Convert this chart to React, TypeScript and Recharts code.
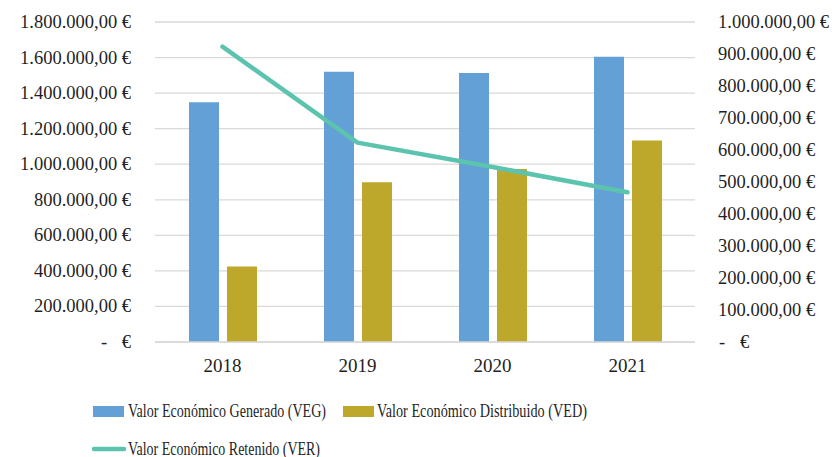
import React from "react";
import {
  ComposedChart,
  Bar,
  Line,
  XAxis,
  YAxis,
  CartesianGrid,
  Legend,
} from "recharts";

const years = ["2018", "2019", "2020", "2021"];
const vegValues = [1348000, 1520000, 1513000, 1605000];
const vedValues = [424000, 898000, 973000, 1134000];
const verValues = [923000, 623000, 547000, 468000];

const leftTicks = [0, 200000, 400000, 600000, 800000, 1000000, 1200000, 1400000, 1600000, 1800000];
const rightTicks = [0, 100000, 200000, 300000, 400000, 500000, 600000, 700000, 800000, 900000, 1000000];

const seriesNames = {
  veg: "Valor Económico Generado (VEG)",
  ved: "Valor Económico Distribuido (VED)",
  ver: "Valor Económico Retenido (VER)",
};

const COLORS = {
  veg: "#63A0D6",
  ved: "#BDA82B",
  ver: "#5CC4AE",
  grid: "#D9D9D9",
  text: "#1f1f1f",
};

const FONT = "'Liberation Serif', 'DejaVu Serif', serif";

const data = years.map((y, i) => ({
  year: y,
  veg: vegValues[i],
  ved: vedValues[i],
  ver: verValues[i],
}));

function fmt(v: number): string {
  const s = Math.round(v).toString();
  const parts: string[] = [];
  for (let i = s.length; i > 0; i -= 3) {
    parts.unshift(s.substring(Math.max(0, i - 3), i));
  }
  return parts.join(".") + ",00 €";
}

const LeftTick = (props: any) => {
  const { x, y, payload } = props;
  const v = payload.value as number;
  if (v === 0) {
    return (
      <g>
        <text x={x - 27} y={y + 6} textAnchor="middle" fontSize={18.5} fontFamily={FONT} fill={COLORS.text}>-</text>
        <text x={x} y={y + 6} textAnchor="end" fontSize={18.5} fontFamily={FONT} fill={COLORS.text}>€</text>
      </g>
    );
  }
  return (
    <text x={x} y={y + 6} textAnchor="end" fontSize={18.5} fontFamily={FONT} fill={COLORS.text}>
      {fmt(v)}
    </text>
  );
};

const RightTick = (props: any) => {
  const { x, y, payload } = props;
  const v = payload.value as number;
  if (v === 0) {
    return (
      <g>
        <text x={x + 1} y={y + 6} textAnchor="start" fontSize={18.5} fontFamily={FONT} fill={COLORS.text}>-</text>
        <text x={x + 22} y={y + 6} textAnchor="start" fontSize={18.5} fontFamily={FONT} fill={COLORS.text}>€</text>
      </g>
    );
  }
  return (
    <text x={x} y={y + 6} textAnchor="start" fontSize={18.5} fontFamily={FONT} fill={COLORS.text}>
      {fmt(v)}
    </text>
  );
};

const XTick = (props: any) => {
  const { x, y, payload } = props;
  return (
    <text x={x} y={y + 30} textAnchor="middle" fontSize={19} fontFamily={FONT} fill={COLORS.text}>
      {payload.value}
    </text>
  );
};

const LEGEND_TOP = 377;
const LEGEND_H = 80;

const LegendContent = () => {
  const top = LEGEND_TOP;
  return (
    <div style={{ width: 839, height: LEGEND_H, position: "relative" }}>
      <svg width={839} height={LEGEND_H} style={{ position: "absolute", left: 0, top: 0, overflow: "visible" }}>
        <rect x={93} y={406 - top} width={31} height={11} fill={COLORS.veg} />
        <text x={128} y={416.5 - top} fontSize={18} fontFamily={FONT} fill={COLORS.text} textLength={198} lengthAdjust="spacingAndGlyphs">
          {seriesNames.veg}
        </text>
        <rect x={343} y={406 - top} width={31} height={11} fill={COLORS.ved} />
        <text x={377} y={416.5 - top} fontSize={18} fontFamily={FONT} fill={COLORS.text} textLength={210} lengthAdjust="spacingAndGlyphs">
          {seriesNames.ved}
        </text>
        <line x1={94} y1={449 - top} x2={124} y2={449 - top} stroke={COLORS.ver} strokeWidth={4.5} strokeLinecap="round" />
        <text x={128} y={455 - top} fontSize={18} fontFamily={FONT} fill={COLORS.text} textLength={192} lengthAdjust="spacingAndGlyphs">
          {seriesNames.ver}
        </text>
      </svg>
    </div>
  );
};

export default function App() {
  return (
    <div style={{ position: "absolute", left: 0, top: 0, width: 839, height: 457, background: "#fff" }}>
      <ComposedChart
        width={839}
        height={457}
        data={data}
        margin={{ top: 22, right: 0, left: 0, bottom: 0 }}
        barGap={8}
      >
        <CartesianGrid yAxisId="left" vertical={false} stroke={COLORS.grid} strokeWidth={1.3} />
        <XAxis
          dataKey="year"
          axisLine={{ stroke: COLORS.grid, strokeWidth: 1.3 }}
          tickLine={false}
          tickSize={0}
          tickMargin={0}
          height={35}
          tick={<XTick />}
          interval={0}
        />
        <YAxis
          yAxisId="left"
          orientation="left"
          width={155}
          domain={[0, 1800000]}
          ticks={leftTicks}
          axisLine={false}
          tickLine={false}
          tickSize={0}
          tickMargin={24}
          tick={<LeftTick />}
          interval={0}
        />
        <YAxis
          yAxisId="right"
          orientation="right"
          width={144}
          domain={[0, 1000000]}
          ticks={rightTicks}
          axisLine={false}
          tickLine={false}
          tickSize={0}
          tickMargin={23}
          tick={<RightTick />}
          interval={0}
        />
        <Legend verticalAlign="bottom" content={<LegendContent />} />
        <Bar yAxisId="left" dataKey="veg" name={seriesNames.veg} fill={COLORS.veg} barSize={30} isAnimationActive={false} />
        <Bar yAxisId="left" dataKey="ved" name={seriesNames.ved} fill={COLORS.ved} barSize={30} isAnimationActive={false} />
        <Line
          yAxisId="right"
          type="linear"
          dataKey="ver"
          name={seriesNames.ver}
          stroke={COLORS.ver}
          strokeWidth={4.5}
          strokeLinecap="round"
          strokeLinejoin="round"
          dot={false}
          activeDot={false}
          isAnimationActive={false}
        />
      </ComposedChart>
    </div>
  );
}
